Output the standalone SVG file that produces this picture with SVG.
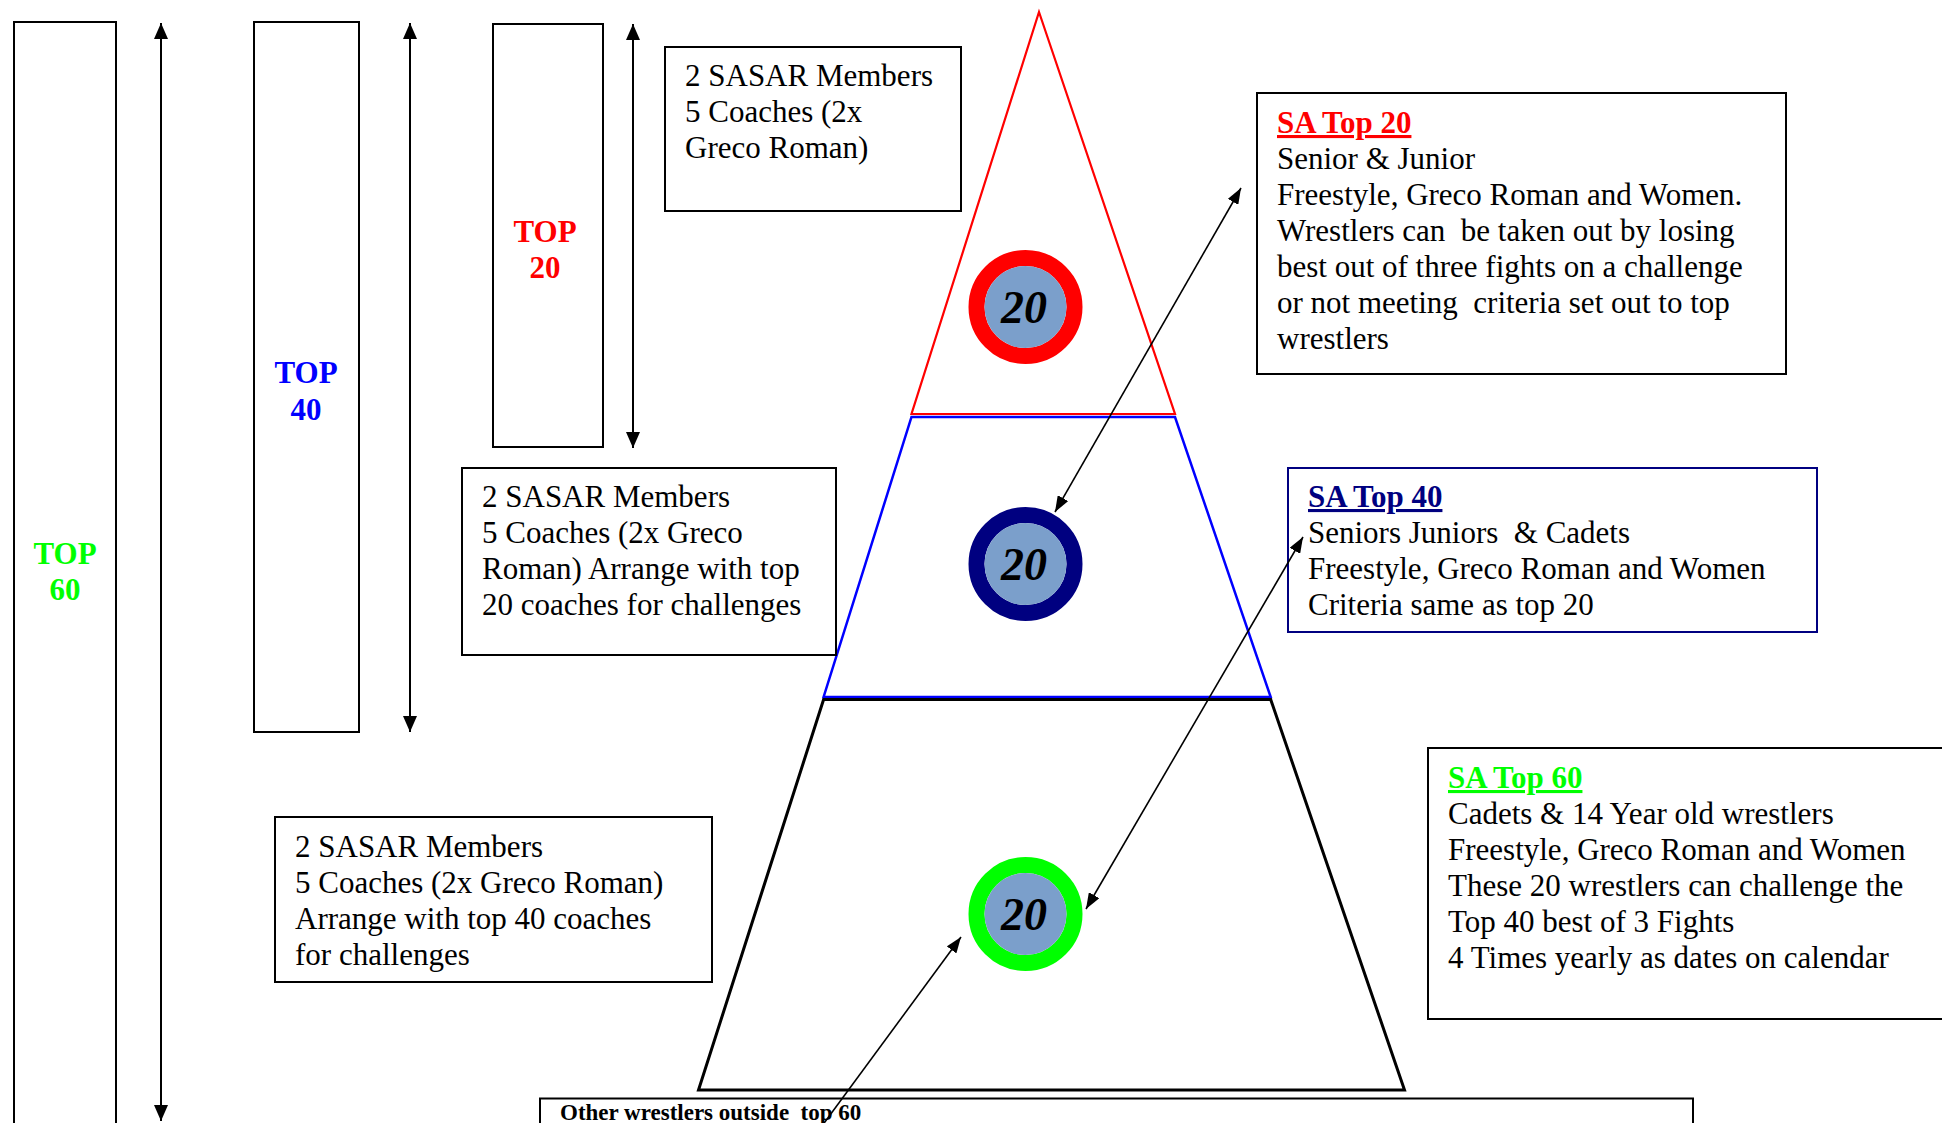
<svg xmlns="http://www.w3.org/2000/svg" width="1942" height="1123" viewBox="0 0 1942 1123">
<style>
  .box{fill:#fff;stroke:#000;stroke-width:2}
  .t{font-family:"Liberation Serif","Times New Roman",serif;font-size:31px;fill:#000}
  .b{font-weight:bold}
  .lbl{font-family:"Liberation Serif","Times New Roman",serif;font-size:31px;font-weight:bold;text-anchor:middle}
  .num{font-family:"Liberation Serif","Times New Roman",serif;font-size:46px;font-weight:bold;font-style:italic;text-anchor:middle;fill:#000}
  .inner{fill:#7b9fcb}
  .u{text-decoration:underline}
  .vline{stroke:#000;stroke-width:2;fill:none}
  .dline{stroke:#000;stroke-width:1.6;fill:none}
</style>
<defs>
  <marker id="vh" viewBox="0 0 16 14" refX="16" refY="7" markerWidth="16" markerHeight="14" markerUnits="userSpaceOnUse" orient="auto-start-reverse">
    <path d="M0,0 L16,7 L0,14 z" fill="#000"/>
  </marker>
  <marker id="dh" viewBox="0 0 16 12" refX="16" refY="6" markerWidth="16" markerHeight="12" markerUnits="userSpaceOnUse" orient="auto-start-reverse">
    <path d="M0,0 L16,6 L0,12 z" fill="#000"/>
  </marker>
</defs>
<rect width="1942" height="1123" fill="#fff"/>

<g id="top60-column">
  <rect class="box" x="14" y="22" width="102" height="1120"/>
  <text class="lbl" fill="#00ff00" x="65" y="564">TOP</text>
  <text class="lbl" fill="#00ff00" x="65" y="600">60</text>
</g>
<g id="top40-column">
  <rect class="box" x="254" y="22" width="105" height="710"/>
  <text class="lbl" fill="#0000ff" x="306" y="383">TOP</text>
  <text class="lbl" fill="#0000ff" x="306" y="420">40</text>
</g>
<g id="top20-column">
  <rect class="box" x="493" y="24" width="110" height="423"/>
  <text class="lbl" fill="#ff0000" x="545" y="242">TOP</text>
  <text class="lbl" fill="#ff0000" x="545" y="278">20</text>
</g>

<g id="pyramid">
  <g id="level-top20">
    <polygon points="1039,12 1175,414 911.5,414" fill="none" stroke="#ff0000" stroke-width="2.2"/>
  </g>
  <g id="level-top40">
    <polygon points="911.5,417 1175,417 1270.7,697 823.6,697" fill="none" stroke="#0000ff" stroke-width="2.5"/>
  </g>
  <g id="level-top60">
    <polygon points="823.6,699.5 1270.7,699.5 1404.5,1090 698.5,1090" fill="none" stroke="#000" stroke-width="3"/>
  </g>
</g>

<g id="circle-top20">
  <circle cx="1025.5" cy="307" r="49" fill="none" stroke="#ff0000" stroke-width="16"/>
  <circle class="inner" cx="1025.5" cy="307" r="41"/>
  <text class="num" x="1024" y="323">20</text>
</g>
<g id="circle-top40">
  <circle cx="1025.5" cy="564" r="49" fill="none" stroke="#000080" stroke-width="16"/>
  <circle class="inner" cx="1025.5" cy="564" r="41"/>
  <text class="num" x="1024" y="580">20</text>
</g>
<g id="circle-top60">
  <circle cx="1025.5" cy="914" r="49" fill="none" stroke="#00ff00" stroke-width="16"/>
  <circle class="inner" cx="1025.5" cy="914" r="41"/>
  <text class="num" x="1024" y="930">20</text>
</g>

<g id="box-top20-coaches">
  <rect class="box" x="665" y="47" width="296" height="164"/>
  <text class="t"><tspan x="685" y="86">2 SASAR Members</tspan><tspan x="685" y="122">5 Coaches (2x</tspan><tspan x="685" y="158">Greco Roman)</tspan></text>
</g>
<g id="box-top40-coaches">
  <rect class="box" x="462" y="468" width="374" height="187"/>
  <text class="t"><tspan x="482" y="507">2 SASAR Members</tspan><tspan x="482" y="543">5 Coaches (2x Greco</tspan><tspan x="482" y="579">Roman) Arrange with top</tspan><tspan x="482" y="615">20 coaches for challenges</tspan></text>
</g>
<g id="box-top60-coaches">
  <rect class="box" x="275" y="817" width="437" height="165"/>
  <text class="t"><tspan x="295" y="857">2 SASAR Members</tspan><tspan x="295" y="893">5 Coaches (2x Greco Roman)</tspan><tspan x="295" y="929">Arrange with top 40 coaches</tspan><tspan x="295" y="965">for challenges</tspan></text>
</g>

<g id="box-sa-top20">
  <rect class="box" x="1257" y="93" width="529" height="281"/>
  <text class="t"><tspan class="b u" fill="#ff0000" x="1277" y="133">SA Top 20</tspan><tspan x="1277" y="169">Senior &amp; Junior</tspan><tspan x="1277" y="205">Freestyle, Greco Roman and Women.</tspan><tspan x="1277" y="241" xml:space="preserve">Wrestlers can  be taken out by losing</tspan><tspan x="1277" y="277">best out of three fights on a challenge</tspan><tspan x="1277" y="313" xml:space="preserve">or not meeting  criteria set out to top</tspan><tspan x="1277" y="349">wrestlers</tspan></text>
</g>
<g id="box-sa-top40">
  <rect x="1288" y="468" width="529" height="164" fill="#fff" stroke="#000080" stroke-width="2"/>
  <text class="t"><tspan class="b u" fill="#000080" x="1308" y="507">SA Top 40</tspan><tspan x="1308" y="543" xml:space="preserve">Seniors Juniors  &amp; Cadets</tspan><tspan x="1308" y="579">Freestyle, Greco Roman and Women</tspan><tspan x="1308" y="615">Criteria same as top 20</tspan></text>
</g>
<g id="box-sa-top60">
  <rect class="box" x="1428" y="748" width="530" height="271"/>
  <text class="t"><tspan class="b u" fill="#00ff00" x="1448" y="788">SA Top 60</tspan><tspan x="1448" y="824">Cadets &amp; 14 Year old wrestlers</tspan><tspan x="1448" y="860">Freestyle, Greco Roman and Women</tspan><tspan x="1448" y="896">These 20 wrestlers can challenge the</tspan><tspan x="1448" y="932">Top 40 best of 3 Fights</tspan><tspan x="1448" y="968">4 Times yearly as dates on calendar</tspan></text>
</g>
<g id="box-others">
  <rect class="box" x="540" y="1098.5" width="1153" height="60"/>
  <text class="t b" style="font-size:23px" x="560" y="1120" xml:space="preserve">Other wrestlers outside  top 60</text>
</g>

<g id="connectors">
  <line class="vline" x1="161" y1="23" x2="161" y2="1121" marker-start="url(#vh)" marker-end="url(#vh)"/>
  <line class="vline" x1="410" y1="23" x2="410" y2="732" marker-start="url(#vh)" marker-end="url(#vh)"/>
  <line class="vline" x1="633" y1="24" x2="633" y2="448" marker-start="url(#vh)" marker-end="url(#vh)"/>
  <line class="dline" x1="1241" y1="188" x2="1055" y2="512" marker-start="url(#dh)" marker-end="url(#dh)"/>
  <line class="dline" x1="1303" y1="537" x2="1086" y2="909" marker-start="url(#dh)" marker-end="url(#dh)"/>
  <line class="dline" x1="819" y1="1130" x2="961" y2="937" marker-end="url(#dh)"/>
</g>
</svg>
